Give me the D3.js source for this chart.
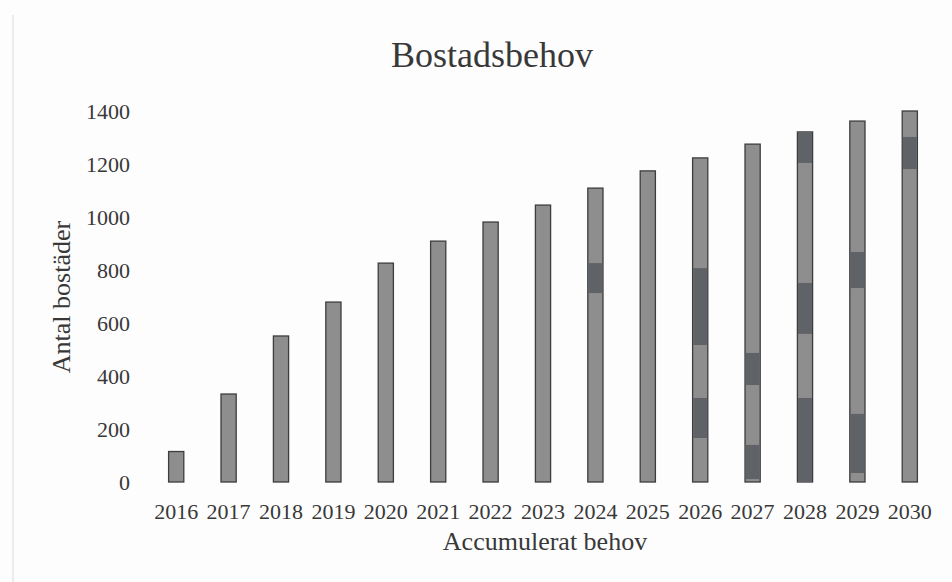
<!DOCTYPE html>
<html>
<head>
<meta charset="utf-8">
<script src="https://cdn.jsdelivr.net/npm/d3@7/dist/d3.min.js"></script>
<style>
  body { margin: 0; background: #fdfdfd; }
  svg { display: block; }
  text { font-family: "Liberation Serif", "DejaVu Serif", serif; fill: #383838; }
</style>
</head>
<body>
<svg class="chart" width="952" height="582"></svg>
<script>
// data
const years = ["2016","2017","2018","2019","2020","2021","2022","2023","2024","2025","2026","2027","2028","2029","2030"];
const behov = [115, 332, 551, 679, 826, 909, 981, 1045, 1109, 1174, 1223, 1275, 1321, 1362, 1400];
const yTicks = [0, 200, 400, 600, 800, 1000, 1200, 1400];

// darker scan patches on some bars: [year, from, to]
const darkPatches = [
  ["2024", 713, 826],
  ["2026", 517, 807], ["2026", 166, 317],
  ["2027", 366, 487], ["2027", 11, 140],
  ["2028", 1204, 1321], ["2028", 559, 751], ["2028", 0, 317],
  ["2029", 732, 868], ["2029", 34, 257],
  ["2030", 1181, 1302]
];

const svg = d3.select(".chart");

// faint scan edge on the left
svg.append("line")
  .attr("x1", 13).attr("x2", 13)
  .attr("y1", 15).attr("y2", 582)
  .attr("stroke", "#ececec")
  .attr("stroke-width", 2);

const x = d3.scaleBand()
  .domain(years)
  .range([150, 936])
  .paddingInner(0.71)
  .paddingOuter(0.355);

const y = d3.scaleLinear()
  .domain([0, 1400])
  .range([482, 111]);

svg.append("text")
  .attr("x", 492)
  .attr("y", 67)
  .attr("text-anchor", "middle")
  .style("font-size", "36px")
  .text("Bostadsbehov");

// y axis
const yAxis = svg.append("g")
  .attr("transform", "translate(130,0)")
  .call(d3.axisLeft(y).tickValues(yTicks).tickFormat(d3.format("d")).tickSize(0).tickPadding(0));
yAxis.select(".domain").remove();
yAxis.selectAll("text")
  .style("font-size", "22px")
  .style("font-family", "Liberation Serif, serif")
  .attr("fill", "#383838");

// x axis
const xAxis = svg.append("g")
  .attr("transform", "translate(0,482)")
  .call(d3.axisBottom(x).tickSize(0).tickPadding(21));
xAxis.select(".domain").remove();
xAxis.selectAll("text")
  .style("font-size", "22px")
  .style("font-family", "Liberation Serif, serif")
  .attr("fill", "#383838");

// bars
svg.selectAll(".bar")
  .data(behov)
  .enter().append("rect")
  .attr("class", "bar")
  .attr("x", function(d, i) { return x(years[i]); })
  .attr("y", function(d) { return y(d); })
  .attr("width", x.bandwidth())
  .attr("height", function(d) { return y(0) - y(d); })
  .attr("fill", "#8e8e8e")
  .attr("stroke", "#3d3d3d")
  .attr("stroke-width", 1.3);

svg.selectAll(".patch")
  .data(darkPatches)
  .enter().append("rect")
  .attr("class", "patch")
  .attr("x", function(d) { return x(d[0]) + 0.6; })
  .attr("y", function(d) { return y(d[2]); })
  .attr("width", x.bandwidth() - 1.2)
  .attr("height", function(d) { return y(d[1]) - y(d[2]); })
  .attr("fill", "#5f6266");

// axis titles
svg.append("text")
  .attr("transform", "translate(70,297) rotate(-90)")
  .attr("text-anchor", "middle")
  .style("font-size", "26px")
  .text("Antal bostäder");

svg.append("text")
  .attr("x", 545)
  .attr("y", 550)
  .attr("text-anchor", "middle")
  .style("font-size", "26px")
  .text("Accumulerat behov");
</script>
</body>
</html>
